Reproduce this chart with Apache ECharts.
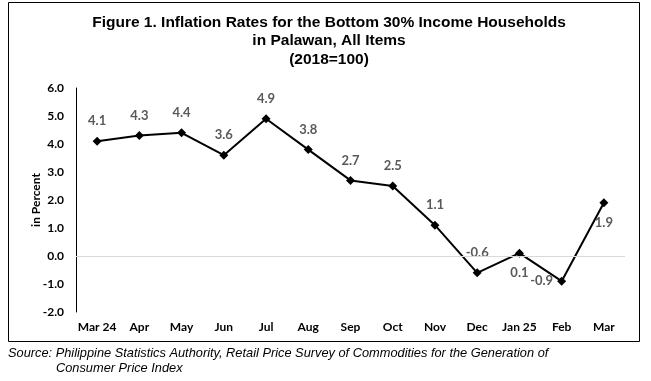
<!DOCTYPE html>
<html><head><meta charset="utf-8">
<script src="https://cdn.jsdelivr.net/npm/echarts@6/dist/echarts.min.js"></script>
<style>html,body{margin:0;padding:0;background:#fff;}#c{width:651px;height:381px;}</style>
</head><body><div id="c"></div>
<script>
const categories = ['Mar 24','Apr','May','Jun','Jul','Aug','Sep','Oct','Nov','Dec','Jan 25','Feb','Mar'];
const values = [4.1,4.3,4.4,3.6,4.9,3.8,2.7,2.5,1.1,-0.6,0.1,-0.9,1.9];
const labelPos = ['top','top','top','top','top','top','top','top','top','top','bottom','left','bottom'];
const titleText = 'Figure 1. Inflation Rates for the Bottom 30% Income Households\nin Palawan, All Items\n(2018=100)';
const yAxisName = 'in Percent';
const sourceLine1 = 'Source: Philippine Statistics Authority, Retail Price Survey of Commodities for the Generation of';
const sourceLine2 = 'Consumer Price Index';

const labelFont = 'Lato, "Open Sans", sans-serif';
const data = values.map((v,i)=>{
  const lab = {position:labelPos[i]};
  if (i===11) { lab.distance=4; }
  if (i===12) { lab.offset=[0,0]; }
  return {value:v,label:lab};
});
const chart = echarts.init(document.getElementById('c'));
chart.setOption({
  animation:false,
  title:{text:titleText,left:324,textAlign:'center',top:8,
    textStyle:{fontFamily:'"Liberation Sans", Arial, sans-serif',fontWeight:'bold',fontSize:15.5,lineHeight:18.5,color:'#000'}},
  grid:{left:76,right:26,top:88,bottom:69},
  xAxis:{type:'category',data:categories,boundaryGap:true,
    axisLine:{show:false},axisTick:{show:false},
    axisLabel:{interval:0,fontFamily:labelFont,fontWeight:'bold',fontSize:12,color:'#000',margin:9}},
  yAxis:{type:'value',min:-2,max:6,interval:1,
    name:yAxisName,nameLocation:'middle',nameGap:34,nameMoveOverlap:false,
    nameTextStyle:{fontFamily:labelFont,fontWeight:'bold',fontSize:12,color:'#000'},
    axisLine:{show:true,onZero:false,lineStyle:{color:'#000',width:1}},
    axisTick:{show:false},
    splitLine:{show:false},
    axisLabel:{formatter:v=>v.toFixed(1),fontFamily:labelFont,fontWeight:'bold',fontSize:12,color:'#000',margin:12}},
  series:[{type:'line',data:data,symbol:'diamond',symbolSize:9,
    itemStyle:{color:'#000'},lineStyle:{color:'#000',width:2},
    label:{show:true,formatter:p=>p.value.toFixed(1),fontFamily:labelFont,fontWeight:'bold',fontSize:13,color:'#595959',distance:9},
    markLine:{silent:true,symbol:'none',label:{show:false},lineStyle:{color:'#d9d9d9',width:1,type:'solid'},data:[{yAxis:0}]}
  }],
  graphic:[
    {type:'rect',shape:{x:8.5,y:2.5,width:631,height:339},style:{fill:'none',stroke:'#000',lineWidth:1},z:-1},
    {type:'text',left:8,top:347,style:{text:sourceLine1,font:'italic 12.8px "Liberation Sans", Arial, sans-serif',fill:'#000'}},
    {type:'text',left:56,top:362,style:{text:sourceLine2,font:'italic 12.8px "Liberation Sans", Arial, sans-serif',fill:'#000'}}
  ]
});
</script></body></html>
